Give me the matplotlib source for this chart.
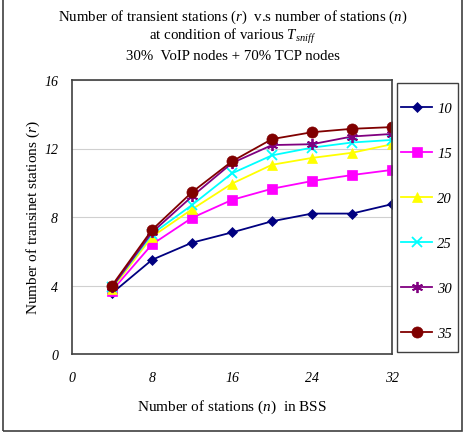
import numpy as np
import matplotlib.pyplot as plt
from matplotlib.patches import Rectangle

plt.rcParams['font.family'] = ['Liberation Serif', 'DejaVu Serif']
plt.rcParams['mathtext.fontset'] = 'custom'
plt.rcParams['mathtext.rm'] = 'Liberation Serif'
plt.rcParams['mathtext.it'] = 'Liberation Serif:italic'

# Data
n_stations = [4, 8, 12, 16, 20, 24, 28, 32]
t_labels = ['10', '15', '20', '25', '30', '35']
r_10 = [3.55, 5.5, 6.5, 7.1, 7.75, 8.2, 8.2, 8.75]
r_15 = [3.7, 6.4, 7.95, 9.0, 9.65, 10.1, 10.45, 10.75]
r_20 = [3.8, 6.85, 8.45, 9.95, 11.05, 11.45, 11.75, 12.25]
r_25 = [3.9, 7.0, 8.7, 10.55, 11.6, 12.05, 12.35, 12.5]
r_30 = [3.9, 7.1, 9.2, 11.15, 12.2, 12.25, 12.7, 12.85]
r_35 = [4.0, 7.25, 9.45, 11.25, 12.55, 12.95, 13.15, 13.25]

series = [r_10, r_15, r_20, r_25, r_30, r_35]
colors = ['#000080', '#FF00FF', '#FFFF00', '#00FFFF', '#800080', '#800000']
markers = ['D', 's', '^', 'x', (6, 2, 0), 'o']
msizes = [5, 7, 7, 7, 8, 8]

fig = plt.figure(figsize=(4.66, 4.35), dpi=100)
ax = fig.add_axes([72/466, 1 - 355/435, 320/466, 274/435])

for vals, c, m, ms, lab in zip(series, colors, markers, msizes, t_labels):
    ax.plot(n_stations, vals, color=c, marker=m, markersize=ms, linewidth=1.3,
            markeredgewidth=1.3 if m in ('x', (6, 2, 0)) else 0.5, label=lab)

ax.set_xlim(0, 32)
ax.set_ylim(0, 16)
ax.set_xticks([0, 8, 16, 24, 32])
ax.set_yticks([0, 4, 8, 12, 16])
ax.tick_params(labelsize=10, direction='in', length=0)
ax.tick_params(axis='x', pad=12)
ax.tick_params(axis='y', pad=10)
for t in ax.get_xticklabels() + ax.get_yticklabels():
    t.set_fontstyle('italic')
ax.grid(axis='y', color='#d0d0d0', linewidth=0.8)
for s in ax.spines.values():
    s.set_color('#404040')
    s.set_linewidth(1.2)

ax.set_xlabel('Number of stations $\\mathit{(n)}$  in BSS', fontsize=11, labelpad=10)
ax.set_ylabel('Number of transinet stations $\\mathit{(r)}$', fontsize=11)
ax.yaxis.set_label_coords(-30/320, 0.5)

fig.text(0.5, 1 - 17/435, 'Number of transient stations $\\mathit{(r)}$  v.s number of stations $\\mathit{(n)}$',
         ha='center', va='center', fontsize=10.7)
fig.text(0.5, 1 - 37/435, 'at condition of various $\\mathit{T}_{\\mathit{sniff}}$',
         ha='center', va='center', fontsize=10.7)
fig.text(0.5, 1 - 57/435, '30%  VoIP nodes + 70% TCP nodes',
         ha='center', va='center', fontsize=10.7)

# legend entries without frame, box drawn separately
leg = fig.legend(loc='upper left', bbox_to_anchor=(401/466, 1 - 103/435),
                 frameon=False, labelspacing=2.18, handlelength=2.15,
                 handletextpad=0.35, borderpad=0, borderaxespad=0,
                 prop={'style': 'italic', 'size': 10.5})
fig.patches.append(Rectangle((397/466, 1 - 353/435), 61/466, 269/435,
                             transform=fig.transFigure, fill=False,
                             edgecolor='#404040', linewidth=1.0))

# outer border (no top edge visible in the reference)
fig.patches.append(Rectangle((3/466, 3/435), 459/466, 440/435, transform=fig.transFigure,
                             fill=False, edgecolor='#404040', linewidth=1.2))

fig.savefig('out.png', dpi=100)
